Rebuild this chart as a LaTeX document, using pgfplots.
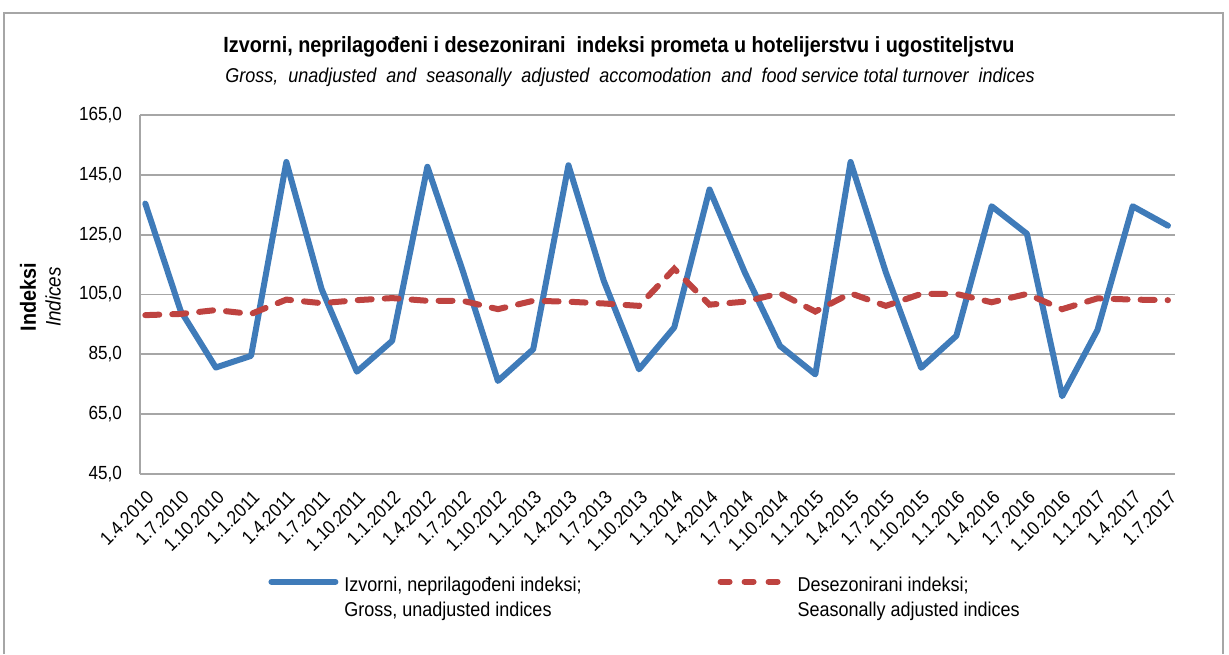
\documentclass[border=0pt]{standalone}
\usepackage{pgfplots}
\pgfplotsset{compat=1.18}
\usepackage{fontspec}
\setmainfont{Liberation Sans}[FakeStretch=0.9]
\definecolor{cblue}{HTML}{3F7BB9}
\definecolor{cred}{HTML}{BE4340}
\definecolor{cgrid}{HTML}{A6A6A6}
\pgfplotsset{redlegend/.style={legend image code/.code={\draw[##1, dash pattern=on 4.5pt off 7.5pt] (1.5pt,8.5pt) -- (30.5pt,8.5pt);}}}
\begin{document}
\begin{tikzpicture}[x=0.5pt,y=0.5pt]
\useasboundingbox (0,0) rectangle (1229,654);
\draw[cgrid, line width=0.9pt] (4,0) -- (4,641) -- (1223,641) -- (1223,0);
\node[font=\fontsize{11}{13}\selectfont\bfseries] at (619,607) {Izvorni, neprilagođeni i desezonirani\ \ indeksi prometa u hotelijerstvu i ugostiteljstvu};
\node[font=\fontsize{10}{12}\selectfont\itshape] at (630,577) {Gross,\ \ unadjusted\ \ and\ \ seasonally\ \ adjusted\ \ accomodation\ \ and\ \ food service total turnover\ \ indices};
\node[rotate=90, font=\fontsize{11}{13}\selectfont\bfseries] at (28,357) {Indeksi};
\node[rotate=90, font=\fontsize{10.5}{13}\selectfont\itshape] at (53,357) {Indices};
\begin{axis}[
  at={(70pt,90pt)}, anchor=south west,
  scale only axis, width=517.5pt, height=179.5pt,
  xmin=-0.15, xmax=29.2, ymin=45, ymax=165,
  ytick={45,65,85,105,125,145,165},
  xtick={0,...,29},
  xticklabels={1.4.2010,1.7.2010,1.10.2010,1.1.2011,1.4.2011,1.7.2011,1.10.2011,1.1.2012,1.4.2012,1.7.2012,1.10.2012,1.1.2013,1.4.2013,1.7.2013,1.10.2013,1.1.2014,1.4.2014,1.7.2014,1.10.2014,1.1.2015,1.4.2015,1.7.2015,1.10.2015,1.1.2016,1.4.2016,1.7.2016,1.10.2016,1.1.2017,1.4.2017,1.7.2017},
  yticklabel style={font=\fontsize{9.5}{11}\selectfont, xshift=-5.5pt,
    /pgf/number format/fixed, /pgf/number format/fixed zerofill, /pgf/number format/precision=1,
    /pgf/number format/use comma, /pgf/number format/assume math mode=true},
  xticklabel style={font=\fontsize{9.5}{11}\selectfont, rotate=45, anchor=east, xshift=-2pt, yshift=-9pt},
  axis x line=bottom, axis y line=left,
  axis line style={-, cgrid, line width=0.9pt},
  major tick length=0pt,
  ymajorgrids, grid style={cgrid, line width=0.9pt},
  legend columns=2,
  legend style={at={(0.1237,-0.276)}, anchor=north west, draw=none, fill=none, inner sep=0pt,
    cells={align=left, anchor=west}, font=\fontsize{10}{12.5}\selectfont,
    /tikz/column 2/.style={column sep=66pt}, /tikz/column 1/.style={column sep=1pt}, /tikz/column 3/.style={column sep=6pt}},
  legend image code/.code={\draw[#1] (1.5pt,8.5pt) -- (33.5pt,8.5pt);},
]
\addplot[cblue, line width=3pt, line join=round, line cap=round] coordinates {
(0,135.4) (1,99.6) (2,80.6) (3,84.5) (4,149.3) (5,106.8) (6,79.2) (7,89.5) (8,147.7) (9,113.0)
(10,76.1) (11,86.7) (12,148.2) (13,109.6) (14,80.0) (15,94.0) (16,140.1) (17,112.4) (18,87.8) (19,78.3)
(20,149.3) (21,112.4) (22,80.5) (23,91.2) (24,134.5) (25,125.3) (26,71.0) (27,93.1) (28,134.5) (29,128.0)};
\addlegendentry{Izvorni, neprilagođeni indeksi;\\Gross, unadjusted indices}
\addplot[cred, line width=3pt, line cap=round, dash pattern=on 7pt off 6.5pt, redlegend] coordinates {
(0,98.1) (1,98.5) (2,99.8) (3,98.5) (4,103.3) (5,102.1) (6,103.1) (7,103.8) (8,102.9) (9,102.9)
(10,100.1) (11,102.9) (12,102.6) (13,102.0) (14,101.2) (15,113.6) (16,101.6) (17,102.6) (18,105.4) (19,99.3)
(20,105.4) (21,101.2) (22,105.2) (23,105.2) (24,102.4) (25,105.2) (26,100.1) (27,103.7) (28,103.3) (29,103.1)};
\addlegendentry{Desezonirani indeksi;\\Seasonally adjusted indices}
\end{axis}
\end{tikzpicture}
\end{document}
